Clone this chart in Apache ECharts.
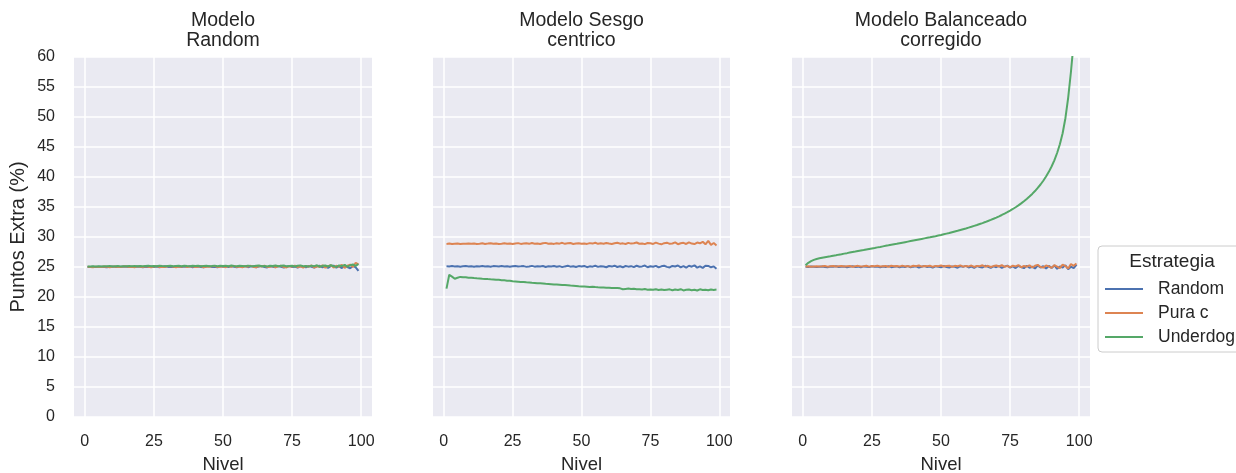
<!DOCTYPE html>
<html>
<head>
<meta charset="utf-8">
<script src="https://cdn.jsdelivr.net/npm/echarts@6/dist/echarts.min.js"></script>
<style>
  html, body { margin: 0; padding: 0; background: #ffffff; }
  #chart { width: 1236px; height: 473px; }
</style>
</head>
<body>
<div id="chart"></div>
<script>
// Niveles (eje x) compartidos por los tres modelos
const niveles = [
  1, 2, 3, 4, 5, 6, 7, 8, 9, 10,
  11, 12, 13, 14, 15, 16, 17, 18, 19, 20,
  21, 22, 23, 24, 25, 26, 27, 28, 29, 30,
  31, 32, 33, 34, 35, 36, 37, 38, 39, 40,
  41, 42, 43, 44, 45, 46, 47, 48, 49, 50,
  51, 52, 53, 54, 55, 56, 57, 58, 59, 60,
  61, 62, 63, 64, 65, 66, 67, 68, 69, 70,
  71, 72, 73, 74, 75, 76, 77, 78, 79, 80,
  81, 82, 83, 84, 85, 86, 87, 88, 89, 90,
  91, 92, 93, 94, 95, 96, 97, 98, 99
];

const modelos = ['Modelo\nRandom', 'Modelo Sesgo\ncentrico', 'Modelo Balanceado\ncorregido'];
const estrategias = ['Random', 'Pura c', 'Underdog'];
const ticksX = [0, 25, 50, 75, 100];

// Modelo Random
const randomRandom = [
  25.0, 25.02, 25.05, 24.98, 25.03, 25.06, 25.0, 24.97, 25.04, 25.08,
  25.02, 24.99, 25.05, 25.1, 25.03, 24.98, 25.06, 25.01, 25.09, 25.04,
  24.97, 25.05, 25.02, 25.1, 25.0, 25.07, 24.96, 25.04, 25.11, 25.02,
  25.06, 24.99, 25.13, 25.04, 24.98, 25.08, 25.02, 25.12, 24.97, 25.06,
  25.1, 25.01, 24.95, 25.09, 25.14, 25.0, 25.05, 24.96, 25.11, 25.03,
  25.08, 24.98, 25.13, 25.04, 24.94, 25.1, 25.02, 25.15, 24.97, 25.07,
  25.12, 24.95, 25.06, 25.16, 25.0, 24.93, 25.11, 25.05, 24.97, 25.14,
  25.03, 24.92, 25.1, 25.18, 24.98, 25.06, 24.9, 25.13, 25.02, 24.95,
  25.17, 25.04, 24.89, 25.12, 25.2, 24.94, 25.08, 24.86, 25.15, 25.23,
  24.9, 25.1, 24.82, 25.25, 25.0, 24.78, 25.18, 24.95, 24.35
];
const randomPura = [
  25.05, 25.0, 24.97, 25.06, 25.02, 24.99, 25.08, 25.03, 24.96, 25.05,
  25.09, 25.01, 24.98, 25.07, 25.12, 25.0, 25.04, 24.97, 25.1, 25.06,
  25.0, 25.13, 25.03, 24.96, 25.08, 25.14, 25.01, 25.06, 24.98, 25.11,
  25.16, 25.02, 24.97, 25.09, 25.04, 25.15, 24.99, 25.07, 25.13, 25.0,
  25.05, 25.17, 24.96, 25.08, 25.02, 25.12, 25.18, 24.98, 25.06, 25.1,
  24.97, 25.14, 25.04, 25.19, 25.0, 25.08, 24.95, 25.13, 25.06, 25.2,
  25.01, 24.96, 25.15, 25.09, 25.22, 24.98, 25.05, 25.17, 24.94, 25.11,
  25.2, 25.0, 24.93, 25.14, 25.06, 25.24, 24.97, 25.1, 24.9, 25.18,
  25.05, 25.26, 24.92, 25.12, 25.0, 25.28, 24.88, 25.15, 25.3, 24.9,
  25.2, 25.05, 25.35, 24.85, 25.22, 25.4, 25.0, 25.7, 25.45
];
const randomUnderdog = [
  25.1, 25.08, 25.12, 25.1, 25.14, 25.09, 25.13, 25.11, 25.15, 25.1,
  25.13, 25.16, 25.1, 25.14, 25.12, 25.17, 25.11, 25.15, 25.13, 25.18,
  25.12, 25.16, 25.19, 25.13, 25.17, 25.14, 25.2, 25.15, 25.12, 25.18,
  25.21, 25.14, 25.17, 25.2, 25.13, 25.22, 25.16, 25.12, 25.19, 25.15,
  25.22, 25.13, 25.18, 25.21, 25.14, 25.17, 25.23, 25.12, 25.19, 25.16,
  25.2, 25.13, 25.24, 25.16, 25.11, 25.21, 25.18, 25.14, 25.23, 25.15,
  25.12, 25.2, 25.25, 25.14, 25.18, 25.1, 25.22, 25.16, 25.26, 25.12,
  25.19, 25.24, 25.1, 25.17, 25.22, 25.08, 25.2, 25.27, 25.12, 25.16,
  25.06, 25.23, 25.14, 25.28, 25.04, 25.19, 25.25, 25.09, 25.3, 25.12,
  25.02, 25.26, 25.15, 25.35, 25.05, 25.28, 25.42, 25.2, 25.5
];

// Modelo Sesgo centrico
const sesgoRandom = [
  25.12, 25.08, 25.15, 25.1, 25.13, 25.06, 25.11, 25.16, 25.09, 25.12,
  25.05, 25.14, 25.1, 25.17, 25.08, 25.12, 25.04, 25.15, 25.11, 25.07,
  25.16, 25.09, 25.13, 25.03, 25.12, 25.18, 25.08, 25.11, 25.15, 25.02,
  25.1, 25.19, 25.06, 25.13, 25.08, 25.16, 25.01, 25.12, 25.09, 25.17,
  25.05, 25.14, 24.98, 25.1, 25.2, 25.06, 25.12, 25.0, 25.15, 25.08,
  25.18, 24.97, 25.11, 25.06, 25.2, 25.02, 25.13, 25.09, 24.96, 25.16,
  25.07, 25.22, 25.0, 25.12, 24.95, 25.17, 25.06, 25.14, 24.98, 25.21,
  25.04, 25.1, 25.24, 24.96, 25.13, 25.05, 25.19, 24.93, 25.11, 25.2,
  25.02, 24.92, 25.18, 25.08, 25.25, 24.95, 25.14, 24.88, 25.2, 25.05,
  25.27, 24.9, 25.12, 24.85, 25.22, 25.18, 24.95, 25.1, 24.72
];
const sesgoPura = [
  28.85, 28.9, 28.82, 28.88, 28.92, 28.84, 28.89, 28.86, 28.93, 28.87,
  28.91, 28.83, 28.88, 28.95, 28.85, 28.9, 28.97, 28.86, 28.92, 28.84,
  28.89, 28.96, 28.87, 28.93, 28.83, 28.91, 28.98, 28.85, 28.9, 28.94,
  28.86, 28.99, 28.88, 28.92, 28.84, 28.97, 29.02, 28.87, 28.93, 28.85,
  28.96, 28.89, 29.03, 28.86, 28.94, 28.99, 28.84, 28.91, 28.97, 28.87,
  28.93, 28.85, 28.98, 28.9, 29.04, 28.86, 28.95, 28.88, 29.01, 28.92,
  28.84, 28.97, 29.05, 28.89, 28.94, 28.83, 29.02, 28.9, 28.96, 29.08,
  28.87, 28.93, 28.81, 29.0, 28.95, 28.85, 29.06, 28.9, 28.78, 28.97,
  29.05, 28.86, 28.92, 29.1, 28.8, 28.96, 29.03, 28.84, 29.12, 28.9,
  28.82, 29.08, 28.95, 29.2, 28.78, 29.35, 28.7, 29.0, 28.6
];
const sesgoUnderdog = [
  21.4, 23.7, 23.4, 23.05, 23.2, 23.35, 23.28, 23.3, 23.22, 23.2,
  23.15, 23.12, 23.1, 23.05, 23.02, 22.98, 22.95, 22.93, 22.88, 22.86,
  22.8, 22.78, 22.72, 22.7, 22.62, 22.6, 22.56, 22.52, 22.5, 22.45,
  22.42, 22.38, 22.35, 22.3, 22.28, 22.24, 22.2, 22.18, 22.14, 22.1,
  22.08, 22.04, 22.0, 21.98, 21.94, 21.9, 21.88, 21.85, 21.8, 21.76,
  21.75, 21.72, 21.68, 21.7, 21.65, 21.62, 21.6, 21.58, 21.55, 21.56,
  21.52, 21.48, 21.5, 21.44, 21.3, 21.35, 21.4, 21.32, 21.36, 21.28,
  21.3, 21.25, 21.32, 21.22, 21.26, 21.2, 21.3, 21.18, 21.24, 21.15,
  21.22, 21.28, 21.12, 21.25, 21.18, 21.3, 21.1, 21.2, 21.26, 21.14,
  21.22, 21.08, 21.28, 21.16, 21.2, 21.12, 21.25, 21.18, 21.24
];

// Modelo Balanceado corregido
const balanceadoRandom = [
  25.05, 25.0, 25.08, 25.03, 24.98, 25.06, 25.1, 25.01, 24.97, 25.07,
  25.04, 25.11, 24.99, 25.05, 25.09, 24.96, 25.03, 25.12, 25.0, 25.06,
  24.95, 25.1, 25.04, 24.98, 25.13, 25.02, 25.07, 24.94, 25.09, 25.01,
  25.14, 24.97, 25.05, 25.1, 24.93, 25.08, 25.0, 25.15, 24.96, 25.06,
  25.11, 24.92, 25.04, 25.16, 24.99, 25.08, 24.9, 25.12, 25.03, 24.95,
  25.17, 25.0, 24.91, 25.1, 25.05, 24.88, 25.14, 25.02, 25.19, 24.93,
  25.07, 24.87, 25.15, 25.01, 24.92, 25.2, 25.04, 24.86, 25.11, 24.97,
  25.18, 24.85, 25.06, 25.22, 24.9, 25.1, 24.83, 25.16, 25.0, 24.8,
  25.2, 24.88, 25.05, 24.76, 25.24, 24.92, 25.12, 24.74, 25.18, 24.85,
  25.26, 24.7, 25.1, 24.9, 25.3, 24.62, 25.05, 24.8, 25.35
];
const balanceadoPura = [
  25.08, 25.12, 25.05, 25.1, 25.14, 25.07, 25.11, 25.16, 25.06, 25.12,
  25.15, 25.08, 25.13, 25.18, 25.07, 25.12, 25.16, 25.05, 25.14, 25.19,
  25.09, 25.13, 25.2, 25.06, 25.15, 25.11, 25.22, 25.08, 25.14, 25.18,
  25.05, 25.21, 25.12, 25.16, 25.07, 25.23, 25.1, 25.15, 25.04, 25.2,
  25.13, 25.25, 25.06, 25.17, 25.11, 25.22, 25.03, 25.18, 25.14, 25.26,
  25.08, 25.15, 25.21, 25.02, 25.19, 25.12, 25.27, 25.06, 25.16, 25.1,
  25.24, 25.01, 25.18, 25.13, 25.28, 25.05, 25.2, 25.0, 25.15, 25.25,
  25.08, 25.3, 25.02, 25.17, 24.98, 25.22, 25.1, 25.32, 24.95, 25.18,
  25.05, 25.28, 24.92, 25.2, 25.35, 25.0, 24.9, 25.25, 25.1, 24.85,
  25.3, 25.05, 24.8, 25.4, 25.15, 24.75, 25.5, 25.2, 25.6
];
const balanceadoUnderdog = [
  25.3, 25.7, 25.98, 26.18, 26.33, 26.45, 26.55, 26.64, 26.72, 26.8,
  26.89, 26.97, 27.06, 27.14, 27.23, 27.31, 27.4, 27.49, 27.57, 27.66,
  27.75, 27.83, 27.92, 28.01, 28.1, 28.18, 28.27, 28.35, 28.44, 28.53,
  28.61, 28.7, 28.79, 28.87, 28.96, 29.05, 29.14, 29.23, 29.32, 29.41,
  29.5, 29.59, 29.68, 29.77, 29.86, 29.95, 30.05, 30.14, 30.24, 30.34,
  30.45, 30.56, 30.67, 30.79, 30.91, 31.03, 31.16, 31.29, 31.42, 31.56,
  31.7, 31.85, 32.0, 32.16, 32.32, 32.49, 32.67, 32.85, 33.04, 33.24,
  33.45, 33.67, 33.9, 34.14, 34.4, 34.67, 34.96, 35.27, 35.6, 35.95,
  36.33, 36.74, 37.18, 37.66, 38.18, 38.75, 39.38, 40.08, 40.86, 41.75,
  42.78, 44.0, 45.45, 47.3, 49.8, 53.2, 57.5, 62.5, 69.0
];

const valoresPorModelo = [
  [randomRandom, randomPura, randomUnderdog],
  [sesgoRandom, sesgoPura, sesgoUnderdog],
  [balanceadoRandom, balanceadoPura, balanceadoUnderdog]
];

const colores = ['#4C72B0', '#DD8452', '#55A868'];
const texto = '#262626';
const fuente = '"Liberation Sans", Arial, sans-serif';

// Geometría de los tres paneles (px)
const panelLeft = [74, 433, 792];
const panelWidth = [298, 297, 298];
const panelTop = 57;
const panelHeight = 360;

const grids = panelLeft.map((l, i) => ({
  left: l, top: panelTop, width: panelWidth[i], height: panelHeight,
  show: true, backgroundColor: '#EAEAF2', borderWidth: 0, containLabel: false
}));

const splitBlanco = { show: true, lineStyle: { color: '#ffffff', width: 1.5 } };

const xAxes = panelLeft.map((_, i) => ({
  type: 'value', gridIndex: i, min: -3.9, max: 103.9,
  axisLine: { show: false },
  axisTick: { show: false, customValues: ticksX },
  axisLabel: { customValues: ticksX, fontSize: 16, color: texto, fontFamily: fuente, margin: 17 },
  splitLine: splitBlanco
}));

const yAxes = panelLeft.map((_, i) => ({
  type: 'value', gridIndex: i, min: 0, max: 60, interval: 5,
  axisLine: { show: false },
  axisTick: { show: false },
  axisLabel: { show: i === 0, fontSize: 16, color: texto, fontFamily: fuente, margin: 19 },
  splitLine: splitBlanco
}));

const series = [];
valoresPorModelo.forEach((valores, i) => {
  valores.forEach((vals, k) => {
    series.push({
      name: estrategias[k], type: 'line', xAxisIndex: i, yAxisIndex: i,
      data: niveles.map((n, j) => [n, vals[j]]),
      showSymbol: false, symbol: 'none', clip: true,
      lineStyle: { color: colores[k], width: 2 },
      itemStyle: { color: colores[k] },
      emphasis: { disabled: true }
    });
  });
});

const graphic = [];
panelLeft.forEach((l, i) => {
  const cx = l + panelWidth[i] / 2;
  graphic.push({
    type: 'text', x: cx, y: 11, silent: true,
    style: { text: modelos[i], fill: texto, fontSize: 19.5, lineHeight: 20, fontFamily: fuente,
             align: 'center', verticalAlign: 'top', textAlign: 'center', textVerticalAlign: 'top' }
  });
  graphic.push({
    type: 'text', x: cx, y: 465, silent: true,
    style: { text: 'Nivel', fill: texto, fontSize: 18.5, fontFamily: fuente,
             align: 'center', verticalAlign: 'middle', textAlign: 'center', textVerticalAlign: 'middle' }
  });
});
graphic.push({
  type: 'text', x: 18, y: 237, rotation: Math.PI / 2, silent: true,
  style: { text: 'Puntos Extra (%)', fill: texto, fontSize: 20, fontFamily: fuente,
           align: 'center', verticalAlign: 'middle', textAlign: 'center', textVerticalAlign: 'middle' }
});
// Caja de la leyenda
graphic.push({
  type: 'rect', x: 1098, y: 246, silent: true, z: -1,
  shape: { width: 160, height: 106, r: 4 },
  style: { fill: '#ffffff', stroke: '#cccccc', lineWidth: 1 }
});
graphic.push({
  type: 'text', x: 1172, y: 262, silent: true,
  style: { text: 'Estrategia', fill: texto, fontSize: 19, fontFamily: fuente,
           align: 'center', verticalAlign: 'middle', textAlign: 'center', textVerticalAlign: 'middle' }
});

const chart = echarts.init(document.getElementById('chart'), null, { renderer: 'canvas' });
chart.setOption({
  animation: false,
  backgroundColor: '#ffffff',
  color: colores,
  grid: grids,
  xAxis: xAxes,
  yAxis: yAxes,
  legend: {
    data: estrategias, orient: 'vertical', left: 1100, top: 274,
    icon: 'rect', itemWidth: 38, itemHeight: 2, itemGap: 4,
    selectedMode: false,
    textStyle: { fontSize: 17.5, lineHeight: 20, color: texto, fontFamily: fuente, padding: [0, 0, 0, 10] }
  },
  graphic: graphic,
  series: series
});
</script>
</body>
</html>
